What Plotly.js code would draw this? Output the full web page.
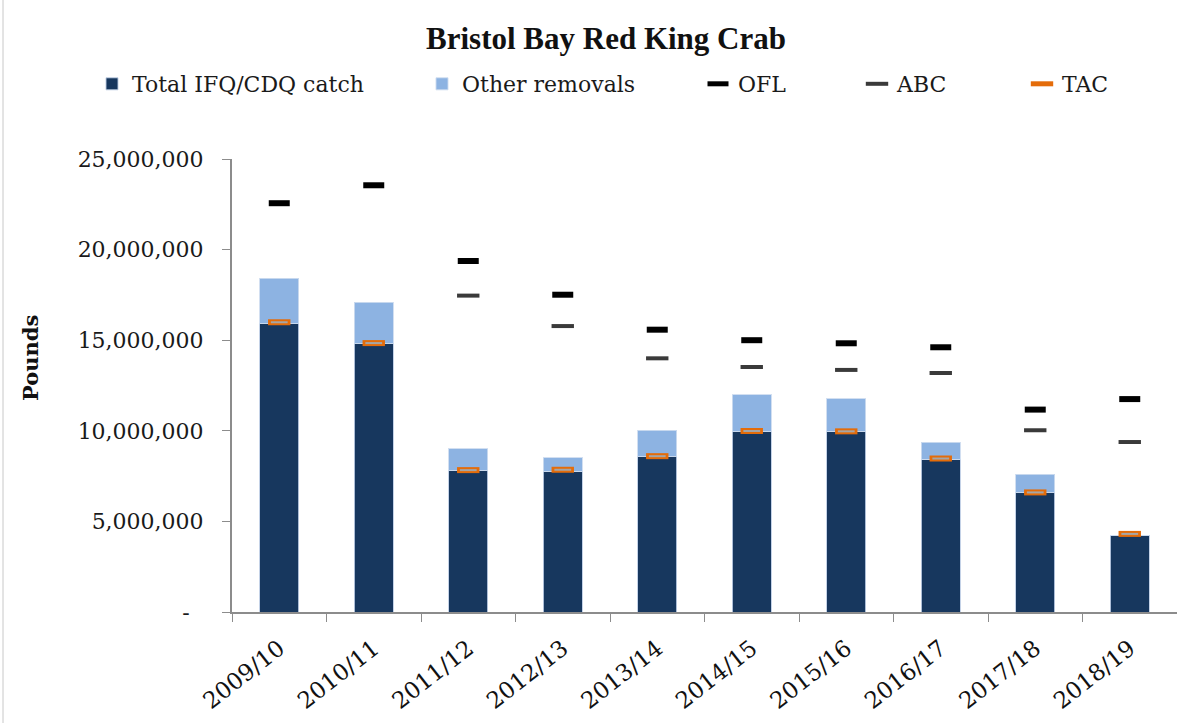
<!DOCTYPE html>
<html>
<head>
<meta charset="utf-8">
<script src="https://cdn.plot.ly/plotly-3.0.1.min.js"></script>
<style>
  html, body { margin: 0; padding: 0; background: #ffffff; }
  #chart { width: 1177px; height: 723px; }
</style>
</head>
<body>
<div id="chart"></div>
<script>
// ---- Data (pounds) ----
const seasons = ['2009/10','2010/11','2011/12','2012/13','2013/14','2014/15','2015/16','2016/17','2017/18','2018/19'];
const catchIFQ = [15910000, 14810000, 7820000, 7770000, 8580000, 9950000, 9950000, 8440000, 6580000, 4210000];
const otherRemovals = [2510000, 2280000, 1190000, 750000, 1440000, 2030000, 1820000, 920000, 1020000, 0];
const ofl = [22560000, 23550000, 19370000, 17510000, 15580000, 15000000, 14830000, 14610000, 11170000, 11750000];
const abc = [null, null, 17460000, 15780000, 14000000, 13520000, 13360000, 13190000, 10030000, 9380000];
const tac = [15990000, 14840000, 7830000, 7850000, 8600000, 9990000, 9970000, 8470000, 6600000, 4310000];
const yTickVals = [0, 5000000, 10000000, 15000000, 20000000, 25000000];
const yTickText = ['-\u00a0\u00a0', '5,000,000', '10,000,000', '15,000,000', '20,000,000', '25,000,000'];

const FONT = 'DejaVu Serif, serif';
const W = 1177, H = 723;
const cx = px => px / W;
const cy = py => 1 - py / H;

const traces = [
  {
    type: 'bar', name: 'Total IFQ/CDQ catch', x: seasons, y: catchIFQ,
    marker: { color: '#17375E', line: { color: 'rgba(190,205,228,0.9)', width: 1 } },
    legend: 'legend', hoverinfo: 'x+y+name'
  },
  {
    type: 'bar', name: 'Other removals', x: seasons, y: otherRemovals,
    marker: { color: '#8DB3E2', line: { color: 'rgba(205,220,240,0.9)', width: 1 } },
    legend: 'legend2', hoverinfo: 'x+y+name'
  },
  {
    type: 'scatter', mode: 'markers', name: 'OFL', x: seasons, y: ofl,
    marker: { symbol: 'line-ew', size: 15, color: '#000000', line: { color: '#000000', width: 6 } },
    legend: 'legend3', cliponaxis: false
  },
  {
    type: 'scatter', mode: 'markers', name: 'ABC', x: seasons, y: abc,
    marker: { symbol: 'line-ew', size: 16, color: '#3a3a3a', line: { color: '#3a3a3a', width: 4 } },
    legend: 'legend4', cliponaxis: false
  },
  {
    type: 'scatter', mode: 'markers', name: 'TAC', x: seasons, y: tac,
    marker: { symbol: 'line-ew', size: 16, color: '#E46C0A', line: { color: '#E46C0A', width: 6 } },
    legend: 'legend5', legendgroup: 'tac', cliponaxis: false
  },
  {
    type: 'scatter', mode: 'markers', name: 'TAC', x: seasons, y: tac,
    marker: { symbol: 'line-ew', size: 12, color: '#A6A6A6', line: { color: '#A6A6A6', width: 2 } },
    showlegend: false, legendgroup: 'tac', cliponaxis: false, hoverinfo: 'skip'
  }
];

function leg(xpx) {
  return {
    orientation: 'h', xref: 'container', yref: 'container',
    x: cx(xpx), y: cy(84), xanchor: 'left', yanchor: 'middle',
    font: { family: FONT, size: 22, color: '#1a1a1a' },
    bgcolor: 'rgba(0,0,0,0)', itemwidth: 30, tracegroupgap: 0
  };
}

const layout = {
  width: W, height: H,
  paper_bgcolor: '#ffffff', plot_bgcolor: '#ffffff',
  margin: { l: 232, r: 0, t: 159, b: 111, pad: 0 },
  barmode: 'stack', bargap: 0.59,
  title: {
    text: '<b>Bristol Bay Red King Crab</b>',
    font: { family: 'Liberation Serif, serif', size: 31, color: '#111111' },
    xref: 'container', yref: 'container', x: cx(606), y: cy(38),
    xanchor: 'center', yanchor: 'middle'
  },
  legend: leg(92), legend2: leg(422), legend3: leg(698), legend4: leg(857), legend5: leg(1022),
  xaxis: {
    type: 'category', range: [-0.5, 9.5],
    showline: true, linecolor: '#8c8c8c', linewidth: 2,
    ticks: 'outside', tickson: 'boundaries', ticklen: 8, tickcolor: '#8c8c8c', tickwidth: 1,
    tickangle: -38, tickfont: { family: FONT, size: 23, color: '#111111' },
    ticklabelstandoff: 12,
    showgrid: false, zeroline: false, fixedrange: true
  },
  yaxis: {
    range: [0, 25000000],
    showline: true, linecolor: '#8c8c8c', linewidth: 2,
    ticks: 'outside', ticklen: 8, tickcolor: '#8c8c8c', tickwidth: 1,
    tickvals: yTickVals, ticktext: yTickText,
    tickfont: { family: FONT, size: 22, color: '#1a1a1a' },
    ticklabelstandoff: 14,
    showgrid: false, zeroline: false, fixedrange: true
  },
  annotations: [
    {
      text: '<b>Pounds</b>', textangle: -90, showarrow: false,
      xref: 'paper', yref: 'paper',
      x: (30 - 232) / 945, y: (612 - 358) / 453, xanchor: 'center', yanchor: 'middle',
      font: { family: FONT, size: 21, color: '#111111' }
    }
  ],
  shapes: [
    {
      type: 'line', xref: 'paper', yref: 'paper',
      x0: (3 - 232) / 945, x1: (3 - 232) / 945, y0: (612 - 723) / 453, y1: 612 / 453,
      line: { color: '#c8c8c8', width: 1 }
    }
  ],
  showlegend: true
};

Plotly.newPlot('chart', traces, layout, { displayModeBar: false, staticPlot: true });
</script>
</body>
</html>
